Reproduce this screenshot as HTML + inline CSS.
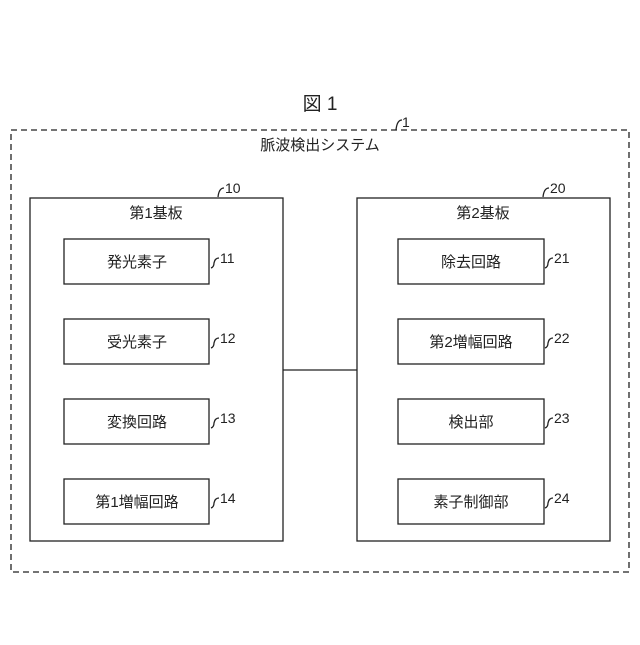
<!DOCTYPE html>
<html><head><meta charset="utf-8"><style>
body{margin:0;background:#fff}
svg text{font-family:"Liberation Sans","Noto Sans CJK JP",sans-serif;fill:#222}
</style></head><body>
<svg width="640" height="640" viewBox="0 0 640 640" xmlns="http://www.w3.org/2000/svg">
<g fill="none" stroke="#222" stroke-width="1.3">
<rect x="11" y="130" width="618" height="442" stroke-dasharray="6,4"/>
<rect x="30" y="198" width="253" height="343"/>
<rect x="357" y="198" width="253" height="343"/>
<rect x="64" y="239" width="145" height="45"/>
<rect x="64" y="319" width="145" height="45"/>
<rect x="64" y="399" width="145" height="45"/>
<rect x="64" y="479" width="145" height="45"/>
<rect x="398" y="239" width="146" height="45"/>
<rect x="398" y="319" width="146" height="45"/>
<rect x="398" y="399" width="146" height="45"/>
<rect x="398" y="479" width="146" height="45"/>
<line x1="283" y1="370" x2="357" y2="370"/>
<path d="M396 130 q1-10 6-10"/>
<path d="M218 197 q1-9 6-9"/>
<path d="M543 197 q1-9 6-9"/>
<path d="M211 268 q3-1 3-5 q1-5 5-5"/>
<path d="M211 348 q3-1 3-5 q1-5 5-5"/>
<path d="M211 428 q3-1 3-5 q1-5 5-5"/>
<path d="M211 508 q3-1 3-5 q1-5 5-5"/>
<path d="M545 268 q3-1 3-5 q1-5 5-5"/>
<path d="M545 348 q3-1 3-5 q1-5 5-5"/>
<path d="M545 428 q3-1 3-5 q1-5 5-5"/>
<path d="M545 508 q3-1 3-5 q1-5 5-5"/>
</g>
<g font-size="15" text-anchor="middle">
<text x="320" y="110" font-size="19">図 1</text>
<text x="320" y="150">脈波検出システム</text>
<text x="156" y="218">第1基板</text>
<text x="483" y="218">第2基板</text>
<text x="137" y="267">発光素子</text>
<text x="137" y="347">受光素子</text>
<text x="137" y="427">変換回路</text>
<text x="137" y="507">第1増幅回路</text>
<text x="471" y="267">除去回路</text>
<text x="471" y="347">第2増幅回路</text>
<text x="471" y="427">検出部</text>
<text x="471" y="507">素子制御部</text>
</g>
<g font-size="14">
<text x="402" y="127">1</text>
<text x="225" y="193">10</text>
<text x="550" y="193">20</text>
<text x="220" y="263">11</text>
<text x="220" y="343">12</text>
<text x="220" y="423">13</text>
<text x="220" y="503">14</text>
<text x="554" y="263">21</text>
<text x="554" y="343">22</text>
<text x="554" y="423">23</text>
<text x="554" y="503">24</text>
</g>
</svg>
</body></html>
